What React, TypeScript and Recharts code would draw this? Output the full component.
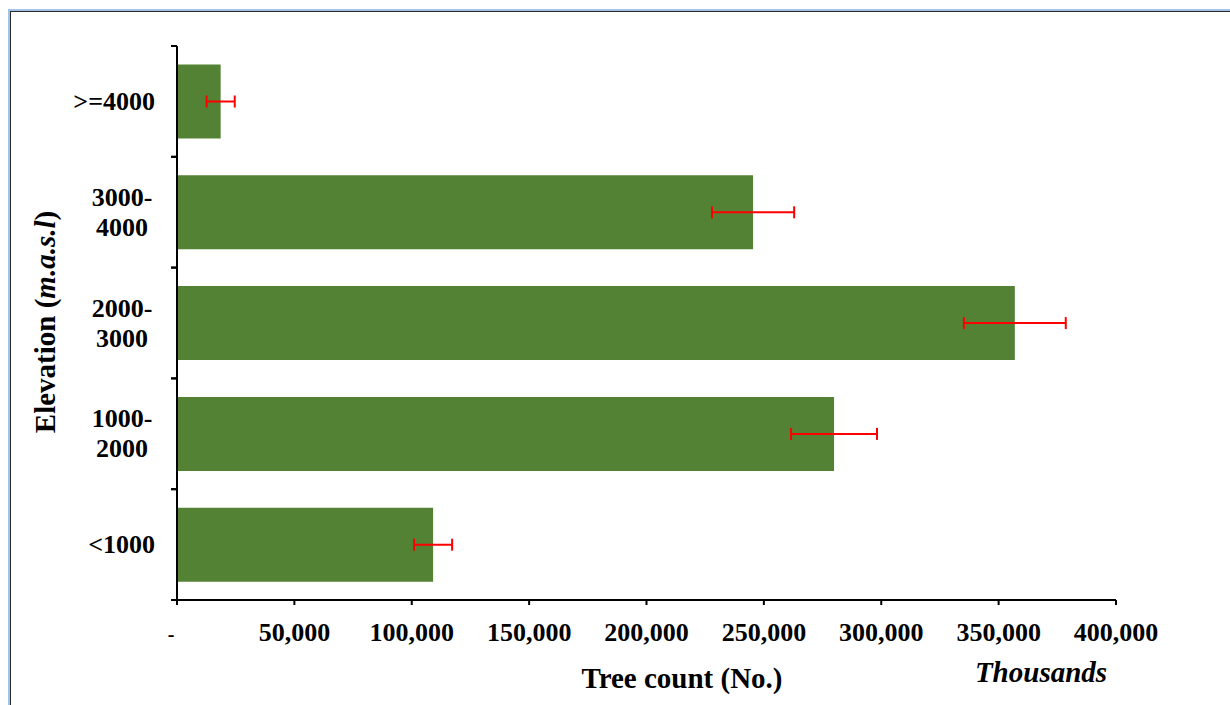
import { Bar, BarChart, ErrorBar, Label, XAxis, YAxis } from 'recharts'

// categories, top to bottom
const elevations = ['>=4000', '3000-4000', '2000-3000', '1000-2000', '<1000']
const treeCounts = [18600, 245400, 356900, 279900, 109100]
const treeErrors = [6000, 17500, 21700, 18300, 8100]
const xTicks = [0, 50000, 100000, 150000, 200000, 250000, 300000, 350000, 400000]

const W = 1230
const H = 705
const LEFT = 177
const TOP = 46
const BOTTOM = 105
const RIGHT = 114
const BAND = (H - TOP - BOTTOM) / elevations.length

const FONT = "'Liberation Serif', 'Times New Roman', serif"
const GREEN = '#548235'

const data = elevations.map((name, i) => ({
  name,
  count: treeCounts[i],
  err: treeErrors[i],
}))

const fmt = (v: number) => (v === 0 ? '-' : v.toLocaleString('en-US'))

const XTick = ({ x, y, payload }: any) => {
  const zero = payload.value === 0
  return (
    <text
      x={zero ? x - 6 : x}
      y={y}
      dy={34}
      textAnchor="middle"
      fontFamily={FONT}
      fontWeight="bold"
      fontSize={zero ? 20 : 26}
      fill="#000"
    >
      {fmt(payload.value)}
    </text>
  )
}

const YTick = ({ y, payload }: any) => {
  const label: string = payload.value
  const dash = label.indexOf('-')
  const marks = (
    <>
      <line x1={LEFT - 6} x2={LEFT} y1={y - BAND / 2} y2={y - BAND / 2} stroke="#000" strokeWidth={2} />
      <line x1={LEFT - 6} x2={LEFT} y1={y + BAND / 2} y2={y + BAND / 2} stroke="#000" strokeWidth={2} />
    </>
  )
  if (dash > 0) {
    return (
      <g>
        {marks}
        <text x={122} y={y} textAnchor="middle" fontFamily={FONT} fontWeight="bold" fontSize={26} fill="#000">
          <tspan x={122} dy={-6.5}>{label.slice(0, dash + 1)}</tspan>
          <tspan x={122} dy={30}>{label.slice(dash + 1)}</tspan>
        </text>
      </g>
    )
  }
  return (
    <g>
      {marks}
      <text x={155} y={y} dy={8.5} textAnchor="end" fontFamily={FONT} fontWeight="bold" fontSize={26} fill="#000">
        {label}
      </text>
    </g>
  )
}

const App = () => {
  return (
    <div
      style={{
        position: 'absolute',
        left: 0,
        top: 0,
        width: W,
        height: H,
        overflow: 'hidden',
        background: '#fff',
      }}
    >
      <div
        style={{
          position: 'absolute',
          left: 8,
          top: 9,
          right: -10,
          bottom: -10,
          borderLeft: '2px solid #a3c3e6',
          borderTop: '2px solid #a3c3e6',
        }}
      />
      <div
        style={{
          position: 'absolute',
          left: 10,
          top: 11,
          right: -10,
          bottom: -10,
          borderLeft: '1px solid #2a2a2a',
          borderTop: '1px solid #2a2a2a',
        }}
      />
      <div style={{ position: 'absolute', left: 0, top: 0 }}>
        <BarChart
          width={W}
          height={H}
          data={data}
          layout="vertical"
          barCategoryGap="16.7%"
          margin={{ top: TOP, right: RIGHT, bottom: 0, left: 0 }}
        >
          <XAxis
            type="number"
            domain={[0, 400000]}
            ticks={xTicks}
            interval={0}
            height={BOTTOM}
            tickSize={5}
            tick={<XTick />}
            axisLine={{ stroke: '#000', strokeWidth: 2 }}
            tickLine={{ stroke: '#000', strokeWidth: 2 }}
          >
            <Label
              content={() => (
                <g fontFamily={FONT} fontWeight="bold" fill="#000">
                  <text x={682} y={688} textAnchor="middle" fontSize={29}>
                    Tree count (No.)
                  </text>
                  <text x={1041} y={682} textAnchor="middle" fontSize={29} fontStyle="italic">
                    Thousands
                  </text>
                </g>
              )}
            />
          </XAxis>
          <YAxis
            type="category"
            dataKey="name"
            width={LEFT}
            tickLine={false}
            tick={<YTick />}
            interval={0}
            axisLine={{ stroke: '#000', strokeWidth: 2 }}
          >
            <Label
              content={() => (
                <text
                  transform="translate(55, 322) rotate(-90)"
                  x={0}
                  y={0}
                  textAnchor="middle"
                  fontFamily={FONT}
                  fontWeight="bold"
                  fontSize={29}
                  fill="#000"
                >
                  Elevation (<tspan fontStyle="italic">m.a.s.l</tspan>)
                </text>
              )}
            />
          </YAxis>
          <Bar dataKey="count" fill={GREEN} isAnimationActive={false}>
            <ErrorBar dataKey="err" direction="x" width={6} stroke="#ff0000" strokeWidth={2} />
          </Bar>
        </BarChart>
      </div>
    </div>
  )
}

export default App
